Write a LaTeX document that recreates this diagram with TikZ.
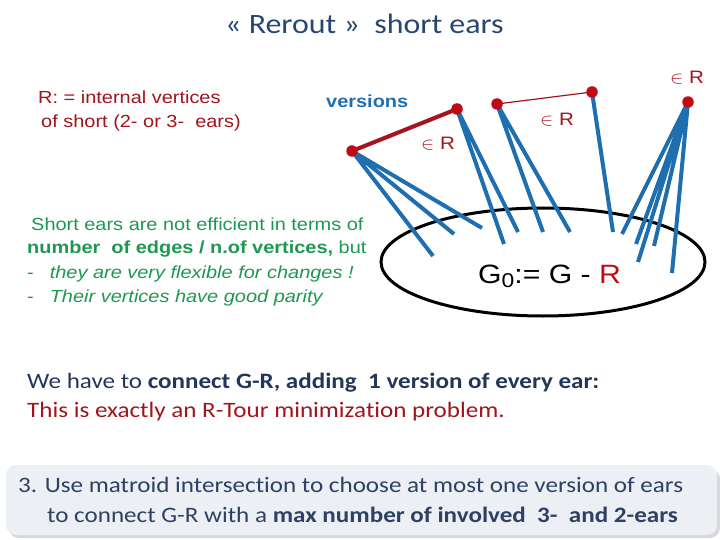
\documentclass[tikz,border=0pt]{standalone}
\usepackage{fontspec}
\setmainfont{Liberation Sans}
\newfontfamily\calib[Ligatures={CommonOff}]{Carlito}
\newcommand\hs[1]{\scalebox{1.14}[1]{#1}}
\definecolor{edgeblue}{RGB}{31,111,176}
\definecolor{vred}{RGB}{192,10,20}
\definecolor{ered}{RGB}{165,20,30}
\definecolor{txred}{RGB}{160,20,30}
\definecolor{txgreen}{RGB}{30,152,80}
\definecolor{navy}{RGB}{35,55,90}
\definecolor{titleblue}{RGB}{40,70,115}
\definecolor{boxtext}{RGB}{45,65,100}
\definecolor{boxfill}{RGB}{236,239,243}
\tikzset{
  vtx/.style={circle,fill=vred,inner sep=0pt,minimum size=11.5pt},
  ear/.style={edgeblue,line width=4pt},
  txt/.style={anchor=base west,inner sep=0pt},
  inr/.style={anchor=base west,inner sep=0pt,text=txred,font=\fontsize{18}{18}\selectfont}
}
\begin{document}
\begin{tikzpicture}[x=1pt,y=-1pt]
\useasboundingbox (0,0) rectangle (720,540);
% title
\node[txt,text=titleblue,font=\calib\fontsize{28}{28}\selectfont] (title) at (225,34) {\hs{«\ Rerout »\ \ short ears}};
% left red text
\node[txt,text=txred,font=\fontsize{17.5}{17.5}\selectfont] (rdef1) at (38,104) {\hs{R: = internal vertices}};
\node[txt,text=txred,font=\fontsize{17.5}{17.5}\selectfont] (rdef2) at (41,128) {\hs{of short (2- or 3-\ \ ears)}};
\node[txt,text=edgeblue,font=\bfseries\fontsize{17.5}{17.5}\selectfont] (versions) at (326,108) {\hs{versions}};
% green text
\begin{scope}[every node/.style={txt,text=txgreen,font=\fontsize{17.5}{17.5}\selectfont}]
\node (g1) at (31,230) {\hs{Short ears are not efficient in terms of}};
\node (g2) at (27,254) {\hs{\textbf{number\ \ of edges / n.of vertices,} but}};
\node (g3) at (27,278) {\hs{-\hspace{14pt}\textit{they are very flexible for changes !}}};
\node (g4) at (27,302) {\hs{-\hspace{14pt}\textit{Their vertices have good parity}}};
\end{scope}
% ellipse
\draw[line width=3pt] (543,262) ellipse [x radius=162, y radius=54];
\node[txt,font=\fontsize{26.5}{26.5}\selectfont] (g0) at (478,283) {\hs{G\raisebox{-0.35ex}{\fontsize{20}{20}\selectfont 0}:= G - \textcolor{vred}{R}}};
% vertices positions
\coordinate (A) at (352,151);
\coordinate (B) at (457,109);
\coordinate (C) at (497,104);
\coordinate (D) at (592,92);
\coordinate (E) at (688,102);
% ear endpoints
\coordinate (a1) at (433,256);
\coordinate (a2) at (454,234);
\coordinate (a3) at (482,228);
\coordinate (b1) at (504,244);
\coordinate (b2) at (518,232);
\coordinate (c1) at (543,232);
\coordinate (c2) at (570,232);
\coordinate (d1) at (613,232);
\coordinate (e1) at (622,234);
\coordinate (e2) at (636,244);
\coordinate (e3) at (638,262);
\coordinate (e4) at (654,246);
\coordinate (e5) at (672,273);
\draw[ear] (A) -- (a1) (A) -- (a2) (A) -- (a3);
\draw[ear] (B) -- (b1) (B) -- (b2);
\draw[ear] (C) -- (c1) (C) -- (c2);
\draw[ear] (D) -- (d1);
\draw[ear] (E) -- (e1) (E) -- (e2) (E) -- (e3) (E) -- (e4) (E) -- (e5);
\draw[ered,line width=4pt] (A) -- (B);
\draw[ered,line width=1.2pt] (C) -- (D);
\node[vtx] (vA) at (A) {};
\node[vtx] (vB) at (B) {};
\node[vtx] (vC) at (C) {};
\node[vtx] (vD) at (D) {};
\node[vtx] (vE) at (E) {};
% in R labels
\node[inr] (r1) at (421,150) {\hs{$\in$\ R}};
\node[inr] (r2) at (540,126) {\hs{$\in$\ R}};
\node[inr] (r3) at (670,84) {\hs{$\in$\ R}};
% bottom text
\node[txt,text=navy,font=\calib\fontsize{22}{22}\selectfont] (we) at (27,388) {\hs{We have to \textbf{connect G-R, adding\ \ 1 version of every ear:}}};
\node[txt,text=txred,font=\calib\fontsize{22}{22}\selectfont] (this) at (27,417) {\hs{This is exactly an R-Tour minimization problem.}};
% box
\fill[gray!30,rounded corners=10pt] (9,469) rectangle (720,538);
\fill[boxfill,rounded corners=10pt] (6,465) rectangle (717,535);
\node[txt,text=boxtext,font=\calib\fontsize{22}{22}\selectfont] (s1) at (18,492) {\hs{3. Use matroid intersection to choose at most one version of ears}};
\node[txt,text=boxtext,font=\calib\fontsize{22}{22}\selectfont] (s2) at (47,522) {\hs{to connect G-R with a \textbf{max number of involved\ \ 3-\ \ and 2-ears}}};
\end{tikzpicture}
\end{document}
